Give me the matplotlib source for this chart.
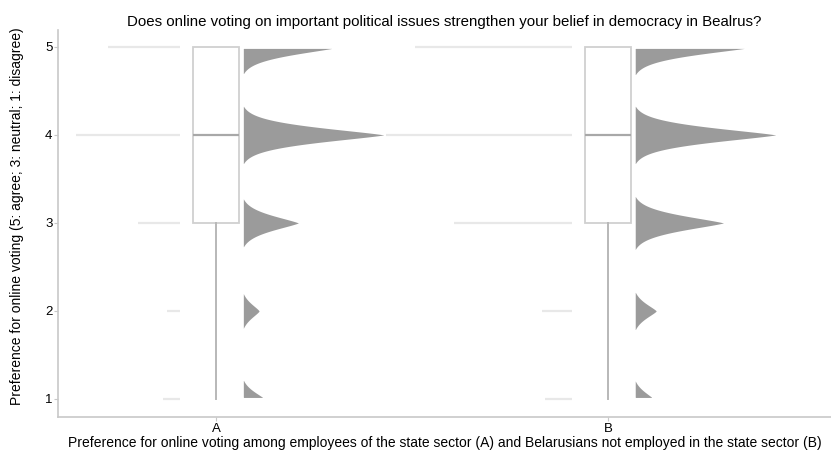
import numpy as np
import matplotlib.pyplot as plt

plt.rcParams['font.family'] = ['Liberation Sans', 'DejaVu Sans']

# response levels and counts per group
levels = np.array([1, 2, 3, 4, 5])
groups = ['A', 'B']
counts_a = [9, 7, 22, 55, 38]
counts_b = [14, 16, 62, 98, 83]

title = 'Does online voting on important political issues strengthen your belief in democracy in Bealrus?'
xlabel = ('Preference for online voting among employees of the state sector (A) '
          'and Belarusians not employed in the state sector (B)')
ylabel = 'Preference for online voting (5: agree; 3: neutral; 1: disagree)'


def density(values, grid, bw=0.135, p=1.5):
    d = np.abs(grid[:, None] - values[None, :]) / bw
    return np.exp(-d ** p).sum(axis=1)


fig = plt.figure(figsize=(8.31, 4.5), dpi=100)
ax = fig.add_axes([0.0698, 0.0733, 0.93, 0.8597])

box_w = 0.117
violin_gap = 0.066
violin_w = 0.38
strip_gap = 0.092
per_count = 0.00483

for i, counts in enumerate([counts_a, counts_b]):
    data = np.repeat(levels, counts)

    # faint stacked points to the left
    for lev, n in zip(levels, counts):
        x_end = i - strip_gap
        ax.hlines(lev, x_end - n * per_count, x_end, color='#e8e8e8', lw=1.6)

    # box plot
    ax.boxplot(data, positions=[i], widths=box_w, whis=1.5, showfliers=False,
               patch_artist=True, manage_ticks=False,
               boxprops=dict(facecolor='white', edgecolor='#d0d0d0', lw=1.3),
               medianprops=dict(color='#a8a8a8', lw=1.6),
               whiskerprops=dict(color='#b8b8b8', lw=1.4),
               capprops=dict(lw=0))

    # half violin on the right, white outline like the original
    grid = np.linspace(data.min(), data.max(), 1600)
    dens = density(data.astype(float), grid)
    dens = dens / dens.max() * violin_w
    x0 = i + violin_gap
    ax.fill_betweenx(grid, x0, x0 + dens, facecolor='#9b9b9b',
                     edgecolor='white', lw=2.2)

ax.set_xlim(-0.403, 1.569)
ax.set_ylim(0.795, 5.19)
ax.set_xticks(range(len(groups)))
ax.set_xticklabels(groups)
ax.set_yticks(levels)

for s in ['top', 'right']:
    ax.spines[s].set_visible(False)
for s in ['left', 'bottom']:
    ax.spines[s].set_color('#c8c8c8')
    ax.spines[s].set_linewidth(1.2)
ax.tick_params(colors='#c8c8c8', labelcolor='black', labelsize=9.5,
               length=3, pad=1)

ax.set_title(title, fontsize=10.8, pad=3)
ax.set_xlabel(xlabel, fontsize=10, labelpad=1)
ax.set_ylabel(ylabel, fontsize=10)
ax.yaxis.set_label_coords(-0.044, 0.52)

fig.savefig('out.png', dpi=100)
